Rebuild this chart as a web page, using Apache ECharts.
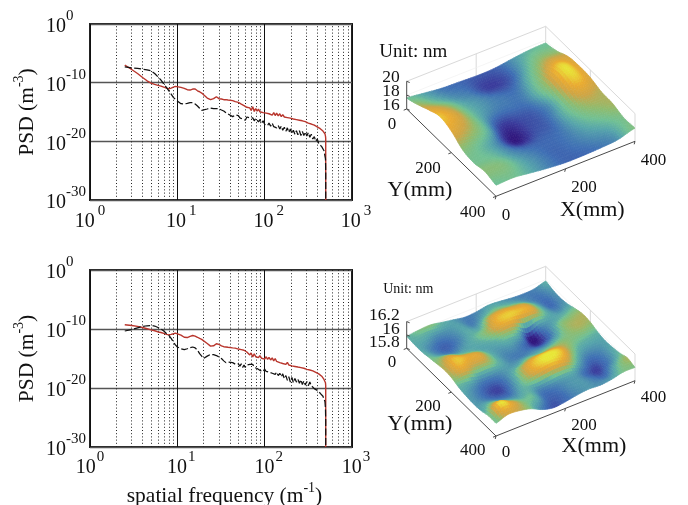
<!DOCTYPE html>
<html><head><meta charset="utf-8">
<style>html,body{margin:0;padding:0;background:#fff}#c{width:688px;height:505px}</style>
<script src="https://cdn.jsdelivr.net/npm/echarts@6/dist/echarts.min.js"></script>
</head><body><div id="c"></div>
<script>
// ---------- data ----------
const freq = [2.5,3,3.5,4,4.5,5,5.5,6,6.5,7, 7.5,8,8.5,9,9.5,10,11,12,13,14, 15,16,17,18,19,20,22,24,26,28, 30,32,34,36,38,40,43,46,
 50,52,54,56,58,60,62.5,65,67.5,70, 73,76,79,82,85,88,92,96,100,104, 108,112,117,122,127,132,137,143,149,155,
 161,168,175,182,189,197,205,213,222,231, 240,250,260,270,281,292,304,316,329,342, 356,370,385,400,416,433,450,465,478,490, 497,500,500];
// log10(PSD)
const red1 = [-7.02,-7.75,-8.43,-9.11,-9.68,-10.07,-10.3,-10.47,-10.58,-10.75, -10.92,-11.04,-10.92,-10.75,-10.64,-10.58,-10.81,-10.98,-11.2,-11.26, -11.09,-11.09,-11.38,-11.55,-11.77,-12,-12.62,-12.9,-12.73,-12.4, -12.73,-12.79,-12.9,-12.9,-12.96,-12.96,-13.07,-13.24,
 -13.36,-13.5,-13.65,-13.6,-13.9,-13.85,-14.2,-14,-14.3,-14.75, -14.1,-14.9,-14.4,-14.85,-14.5,-14.95,-14.65,-15.1,-14.9,-15.2, -14.95,-15.3,-15,-15.55,-15.1,-15.6,-15.2,-15.65,-15.3,-15.8,
 -15.45,-15.85,-15.55,-15.95,-15.65,-16.05,-15.75,-16.2,-15.9,-16.3, -16,-16.4,-16.15,-16.5,-16.3,-16.65,-16.5,-16.9,-16.65,-17.05, -16.85,-17.25,-17.15,-17.55,-17.45,-17.85,-17.9,-18.25,-18.4,-18.7, -19.1,-19.5,-30];
const black1 = [-7.3,-7.47,-7.58,-7.7,-7.81,-7.98,-8.43,-9,-9.56,-10.24, -10.81,-11.38,-11.94,-12.5,-12.85,-13.13,-13.58,-13.64,-13.53,-13.41, -13.41,-13.64,-13.98,-14.37,-14.71,-14.94,-14.49,-14.32,-14.43,-14.43, -14.43,-14.66,-14.83,-15.11,-15.34,-15.51,-15.79,-15.51,
 -15.6,-16,-15.7,-16.2,-15.9,-16.4,-15.85,-16.1,-16,-15.7, -16,-16.5,-16.1,-16.4,-16.7,-16.3,-16.9,-16.5,-17.1,-16.8, -17.3,-16.9,-17.4,-16.9,-17.5,-17.2,-17.7,-17.3,-17.9,-17.4,
 -18.1,-17.6,-18.3,-17.7,-18.5,-17.9,-18.7,-18.1,-18.8,-18.2, -18.9,-18.2,-19,-18.3,-19,-18.4,-19.1,-18.5,-19.3,-18.8, -19.6,-19.2,-20,-19.6,-20.4,-20.1,-20.9,-20.7,-21.6,-21.9, -23,-25,-30];
const red2 = [-9.27,-9.4,-9.55,-9.75,-9.95,-10.15,-10.3,-10.5,-10.6,-10.75, -10.9,-11,-10.9,-10.8,-10.7,-10.68,-11.05,-11.4,-11.45,-11.25, -11.1,-11.2,-11.4,-11.6,-11.75,-11.92,-12.45,-12.9,-12.85,-12.5, -12.6,-12.85,-13,-13.05,-13.1,-13.15,-13.2,-13.25,
 -13.4,-13.5,-13.5,-13.65,-13.6,-13.75,-13.9,-14,-14.4,-14.05, -14.75,-14.2,-14.7,-14.45,-14.85,-14.5,-14.95,-14.65,-15.1,-14.7, -15.15,-14.8,-15.25,-14.9,-15.4,-15,-15.5,-15.25,-15.7,-15.4,
 -15.85,-15.55,-16,-15.65,-16.1,-15.85,-16.25,-15.95,-16.35,-16.05, -16.45,-16.2,-16.55,-16.3,-16.65,-16.45,-16.85,-16.6,-16.95,-16.75, -17.1,-16.95,-17.35,-17.25,-17.6,-17.65,-18,-18.2,-18.55,-18.8, -19.1,-19.6,-30];
const black2 = [-10.34,-10.1,-9.8,-9.55,-9.45,-9.4,-9.5,-9.75,-10,-10.35, -10.75,-11.1,-11.6,-12.2,-12.7,-13.05,-13.35,-13.5,-13.35,-13.15, -13.05,-13.2,-13.6,-14.18,-14.6,-15,-14.6,-14.3,-14.35,-14.5, -14.75,-15,-15.4,-15.7,-15.6,-15.55,-15.7,-15.95,
 -15.9,-16.3,-15.9,-16.5,-16.1,-16.5,-16.1,-16.2,-16,-15.9, -16,-16.5,-16.2,-16.7,-16.4,-17,-16.7,-17.2,-16.8,-17.2, -16.9,-17.3,-17,-17.5,-17.2,-17.7,-17.3,-17.9,-17.5,-18.1,
 -17.6,-18.4,-17.9,-18.7,-18.1,-19,-18.2,-19.1,-18.4,-19, -18.5,-19.2,-18.6,-19.4,-18.8,-19.5,-18.9,-19.6,-19,-19.6, -19.5,-20.1,-19.8,-20.4,-20.2,-20.9,-20.8,-21.4,-21.5,-22.3, -23.5,-25.5,-30];
const dottedFreq = [2,3,4,5,6,7,8,9,20,30,40,50,60,70,80,90,200,300,400,500,600,700,800,900];

// surface heights in nm: rows y = 0..400 mm, columns x = 0..400 mm
const surfaceA = [
 [17.6,17.3,17.0,16.9,16.8,16.85,17.2,17.5,17.6],
 [18.2,17.6,17.2,17.0,16.6,16.7,17.3,18.0,18.0],
 [19.0,18.4,17.5,17.2,17.0,17.0,17.7,18.9,18.8],
 [19.6,18.8,17.6,17.1,17.0,17.1,18.0,19.9,19.0],
 [19.1,18.4,17.5,16.5,16.7,16.9,17.6,19.7,18.9],
 [18.0,17.6,17.1,16.2,16.7,16.9,17.6,18.6,18.4],
 [17.7,17.6,17.2,16.9,16.9,17.0,17.4,17.9,18.3],
 [18.0,17.9,17.4,17.1,16.9,17.0,17.2,17.4,17.8],
 [17.6,17.7,17.4,17.1,16.9,16.9,17.0,17.2,17.9]];
const surfaceB = [
 [15.98,16.0,16.01,15.98,15.95,15.92,15.93,15.96,15.95,15.93,15.92,15.93,15.98],
 [15.97,15.96,15.93,15.94,15.96,15.92,15.97,16.0,15.99,15.97,15.93,15.91,15.95],
 [15.97,15.92,15.89,15.92,15.97,15.97,16.06,16.08,16.07,16.05,15.97,15.9,15.94],
 [15.99,15.95,15.92,15.95,15.98,16.02,16.08,16.1,16.08,16.06,15.98,15.93,15.96],
 [16.01,16.05,16.0,15.98,15.96,15.97,16.0,15.98,15.85,15.93,15.96,15.98,16.0],
 [16.03,16.1,16.08,16.06,15.98,15.94,15.94,15.9,15.85,15.9,16.0,16.02,16.03],
 [16.02,16.07,16.03,16.03,15.98,15.93,15.92,15.93,15.93,15.97,16.01,16.03,16.02],
 [15.98,15.96,15.92,15.92,15.95,15.96,16.0,16.0,16.02,16.02,16.0,15.99,15.98],
 [15.96,15.92,15.88,15.88,15.96,16.05,16.1,16.12,16.1,16.02,15.96,15.95,15.96],
 [15.95,15.93,15.9,15.9,15.98,16.05,16.09,16.1,16.06,15.97,15.9,15.92,15.97],
 [15.96,16.01,15.97,15.95,15.98,15.93,15.94,15.96,15.96,15.9,15.87,15.92,15.99],
 [15.99,16.12,16.06,16.0,15.98,15.9,15.9,15.94,15.95,15.92,15.9,15.98,16.03],
 [15.99,16.05,16.04,16.0,15.92,15.88,15.9,15.93,15.95,15.94,15.96,16.0,16.0]];
const planeTicks = [0,200,400];
const zTicksA = ['16','18','20'];
const zTicksB = ['15.8','16','16.2'];

// ---------- styles / layout ----------
const SERIF = '"Liberation Serif","Times New Roman",serif';
const RED = '#b8352c', INK = '#111';
const stops = [[0,[48,22,125]],[.1,[58,58,155]],[.2,[62,110,180]],[.3,[86,165,170]],[.38,[112,192,148]],[.5,[143,187,110]],[.65,[206,165,70]],[.82,[234,170,48]],[1,[232,230,55]]];
function colorOf(t){
  t=Math.max(0,Math.min(1,t));
  for(let i=1;i<stops.length;i++){
    if(t<=stops[i][0]){
      const a=stops[i-1],b=stops[i],k=(t-a[0])/(b[0]-a[0]);
      return 'rgb('+a[1].map((v,n)=>Math.round(v+(b[1][n]-v)*k)).join(',')+')';
    }
  }
  return '#e8e637';
}
const viewA = {o:[406.7,109],u:[139,-55],v:[89.3,87.3],h:27.7,zr:[16,20],cm:[[16.2,0],[20,1]],
  yOff:[-10.5,16],xOff:[5.8,19],zOff:-4,zt:zTicksA,unit:[413.3,51.7,19],yName:[420,190],xName:[592.3,210.7]};
const viewB = {o:[406.7,348.3],u:[139,-55.3],v:[89.3,87.7],h:26.7,zr:[15.8,16.2],cm:[[15.84,0],[15.89,.17],[15.98,.33],[16.12,1]],
  yOff:[-10.5,14.4],xOff:[5.8,16.7],zOff:-6,zt:zTicksB,unit:[408.3,289.3,14],yName:[420,424],xName:[594,446]};
function tOf(view,z){
  const m=view.cm;
  for(let i=1;i<m.length;i++) if(z<=m[i][0]||i===m.length-1) return m[i-1][1]+(z-m[i-1][0])/(m[i][0]-m[i-1][0])*(m[i][1]-m[i-1][1]);
}
function project(view,x,y,z){
  const t=(z-view.zr[0])/(view.zr[1]-view.zr[0]);
  return [view.o[0]+x*view.u[0]+y*view.v[0], view.o[1]+x*view.u[1]+y*view.v[1]-t*view.h];
}
function cr(p0,p1,p2,p3,t){
  return .5*((2*p1)+(-p0+p2)*t+(2*p0-5*p1+4*p2-p3)*t*t+(-p0+3*p1-3*p2+p3)*t*t*t);
}
function sample(g,r,c,a,b){
  const n=g.length-1, row=k=>g[Math.max(0,Math.min(n,k))];
  const at=k=>{const R=row(k);const m=R.length-1,q=j=>R[Math.max(0,Math.min(m,j))];return cr(q(c-1),q(c),q(c+1),q(c+2),a);};
  return cr(at(r-1),at(r),at(r+1),at(r+2),b);
}
function surfaceSeries(g,view,sub){
  const n=g.length-1, cells=[];
  for(let r=0;r<n;r++) for(let c=n-1;c>=0;c--) cells.push([r,c]);
  return {type:'custom',coordinateSystem:'none',silent:true,animation:false,z:3,progressive:0,data:cells,
    renderItem(p,api){
      const r=api.value(0),c=api.value(1),kids=[];
      for(let i=0;i<sub;i++) for(let j=sub-1;j>=0;j--){
        const pts=[[j,i],[j+1,i],[j+1,i+1],[j,i+1]].map(([a,b])=>{
          const z=sample(g,r,c,a/sub,b/sub);
          return {z,p:project(view,(c+a/sub)/n,(r+b/sub)/n,z)};
        });
        const zm=(pts[0].z+pts[1].z+pts[2].z+pts[3].z)/4;
        const col=colorOf(tOf(view,zm));
        kids.push({type:'polygon',shape:{points:pts.map(q=>q.p)},style:{fill:col,stroke:col,lineWidth:.7}});
      }
      return {type:'group',children:kids};
    }};
}
function ln(a,b,color,w){return {type:'line',shape:{x1:a[0],y1:a[1],x2:b[0],y2:b[1]},style:{stroke:color,lineWidth:w,fill:null}};}
function tx(t,x,y,size,align){return {type:'text',style:{text:t,x,y,fontSize:size,fontFamily:SERIF,fill:'#111',align:align||'center',verticalAlign:'middle'}};}
function frameBack(view){
  const z0=view.zr[0],z1=view.zr[1],mid=(z0+z1)/2,P=(x,y,z)=>project(view,x,y,z),c='#d9d9d9';
  return {type:'custom',coordinateSystem:'none',silent:true,animation:false,z:2,data:[0],renderItem(){
    return {type:'group',children:[
      ln(P(0,0,z1),P(1,0,z1),c,1),ln(P(1,0,z1),P(1,1,z1),c,1),
      ln(P(1,0,z0),P(1,0,z1),c,1),ln(P(1,1,z0),P(1,1,z1),c,1),
      ln(P(.5,0,z0),P(.5,0,z1),c,1),ln(P(1,.5,z0),P(1,.5,z1),c,1),
      ln(P(0,0,mid),P(1,0,mid),'#eee',.6),ln(P(1,0,mid),P(1,1,mid),'#eee',.6)
    ]};
  }};
}
function frameFront(view){
  const z0=view.zr[0],z1=view.zr[1],P=(x,y,z)=>project(view,x,y,z),c='#4a4a4a',kids=[];
  kids.push(ln(P(0,0,z0),P(0,1,z0),c,1),ln(P(0,1,z0),P(1,1,z0),c,1),ln(P(0,0,z0),P(0,0,z1),c,1));
  planeTicks.forEach(t=>{
    const f=t/400,a=P(0,f,z0),b=P(f,1,z0);
    kids.push(ln(a,[a[0]-3,a[1]+1.2],c,1),ln(b,[b[0]-.8,b[1]+3],c,1));
    kids.push(tx(String(t),a[0]+view.yOff[0],a[1]+view.yOff[1],17,'right'));
    kids.push(tx(String(t),b[0]+view.xOff[0],b[1]+view.xOff[1],17,'left'));
  });
  view.zt.forEach((t,i)=>{
    const f=i/2,a=P(0,0,z0+f*(z1-z0));
    kids.push(ln(a,[a[0]+3,a[1]+1.2],c,1));
    kids.push(tx(t,a[0]-7,a[1]+view.zOff,17.5,'right'));
  });
  kids.push(tx('Unit: nm',view.unit[0],view.unit[1],view.unit[2]));
  kids.push(tx('Y(mm)',view.yName[0],view.yName[1],22));
  kids.push(tx('X(mm)',view.xName[0],view.xName[1],22));
  return {type:'custom',coordinateSystem:'none',silent:true,animation:false,z:4,data:[0],renderItem(){return {type:'group',children:kids};}};
}
const mkRich=gap=>({b:{fontSize:20,fontFamily:SERIF,color:'#111',verticalAlign:'bottom',lineHeight:20},
            c:{fontSize:20,fontFamily:SERIF,color:'#111',verticalAlign:'bottom',lineHeight:20,padding:[0,0,0,8]},
            s:{fontSize:15,fontFamily:SERIF,color:'#111',verticalAlign:'top',lineHeight:28,padding:[0,0,0,gap]}});
const xLabel=v=>{const e=Math.round(Math.log10(v));return '{'+(e>0?'c':'b')+'|10}{s|'+e+'}';};
const yLabel=v=>'{b|10}{s|'+v+'}';
const nameRich={b:{fontSize:21.5,fontFamily:SERIF,color:'#111',verticalAlign:'bottom',lineHeight:20},
                s:{fontSize:14,fontFamily:SERIF,color:'#111',verticalAlign:'top',lineHeight:26}};
function xAx(i,margin,gap,name){return {type:'log',logBase:10,gridIndex:i,min:1,max:1000,
  axisLine:{show:false},axisTick:{show:false},
  axisLabel:{margin,formatter:xLabel,rich:mkRich(gap),showMinLabel:true,showMaxLabel:true},
  splitLine:{show:true,lineStyle:{color:'#111',width:1}},
  name:name||'',nameLocation:'middle',nameGap:34,nameTextStyle:{rich:nameRich,padding:[0,0,0,7]}};}
function yAx(i){return {type:'value',gridIndex:i,min:-30,max:0,interval:10,
  axisLine:{show:false},axisTick:{show:false},
  axisLabel:{margin:44,align:'left',padding:[0,0,2,0],formatter:yLabel,rich:mkRich(0),showMinLabel:true,showMaxLabel:true},
  splitLine:{show:true,lineStyle:{color:'#555',width:1.4}},
  name:'{b|PSD (m}{s|-3}{b|)}',nameLocation:'middle',nameRotate:90,nameGap:52,nameTextStyle:{rich:nameRich}};}
function curve(i,vals,color,dash,marks){
  const s={type:'line',xAxisIndex:i,yAxisIndex:i,data:freq.map((f,k)=>[f,vals[k]]),symbol:'none',silent:true,animation:false,
    lineStyle:{color,width:dash?1.25:1.4,type:dash?[7,2.5]:'solid'},z:6};
  if(marks) s.markLine={silent:true,symbol:'none',animation:false,label:{show:false},
    lineStyle:{color:'#222',width:1,type:[1,2.2]},data:dottedFreq.map(f=>({xAxis:f}))};
  return s;
}
const chart=echarts.init(document.getElementById('c'),null,{renderer:'canvas'});
chart.setOption({
  animation:false,backgroundColor:'#fff',
  grid:[{left:90,top:24,width:262,height:176,show:true,borderColor:'#222',borderWidth:2,backgroundColor:'transparent',outerBoundsMode:'none'},
        {left:90,top:270,width:262,height:177,show:true,borderColor:'#222',borderWidth:2,backgroundColor:'transparent',outerBoundsMode:'none'}],
  xAxis:[xAx(0,4,3),xAx(1,3,1,'{b|spatial frequency (m}{s|-1}{b|)}')],
  yAxis:[yAx(0),yAx(1)],
  series:[
    curve(0,red1,RED,false,true),curve(0,black1,INK,true,false),
    curve(1,red2,RED,false,true),curve(1,black2,INK,true,false),
    frameBack(viewA),surfaceSeries(surfaceA,viewA,7),frameFront(viewA),
    frameBack(viewB),surfaceSeries(surfaceB,viewB,5),frameFront(viewB)
  ]
});
</script></body></html>
